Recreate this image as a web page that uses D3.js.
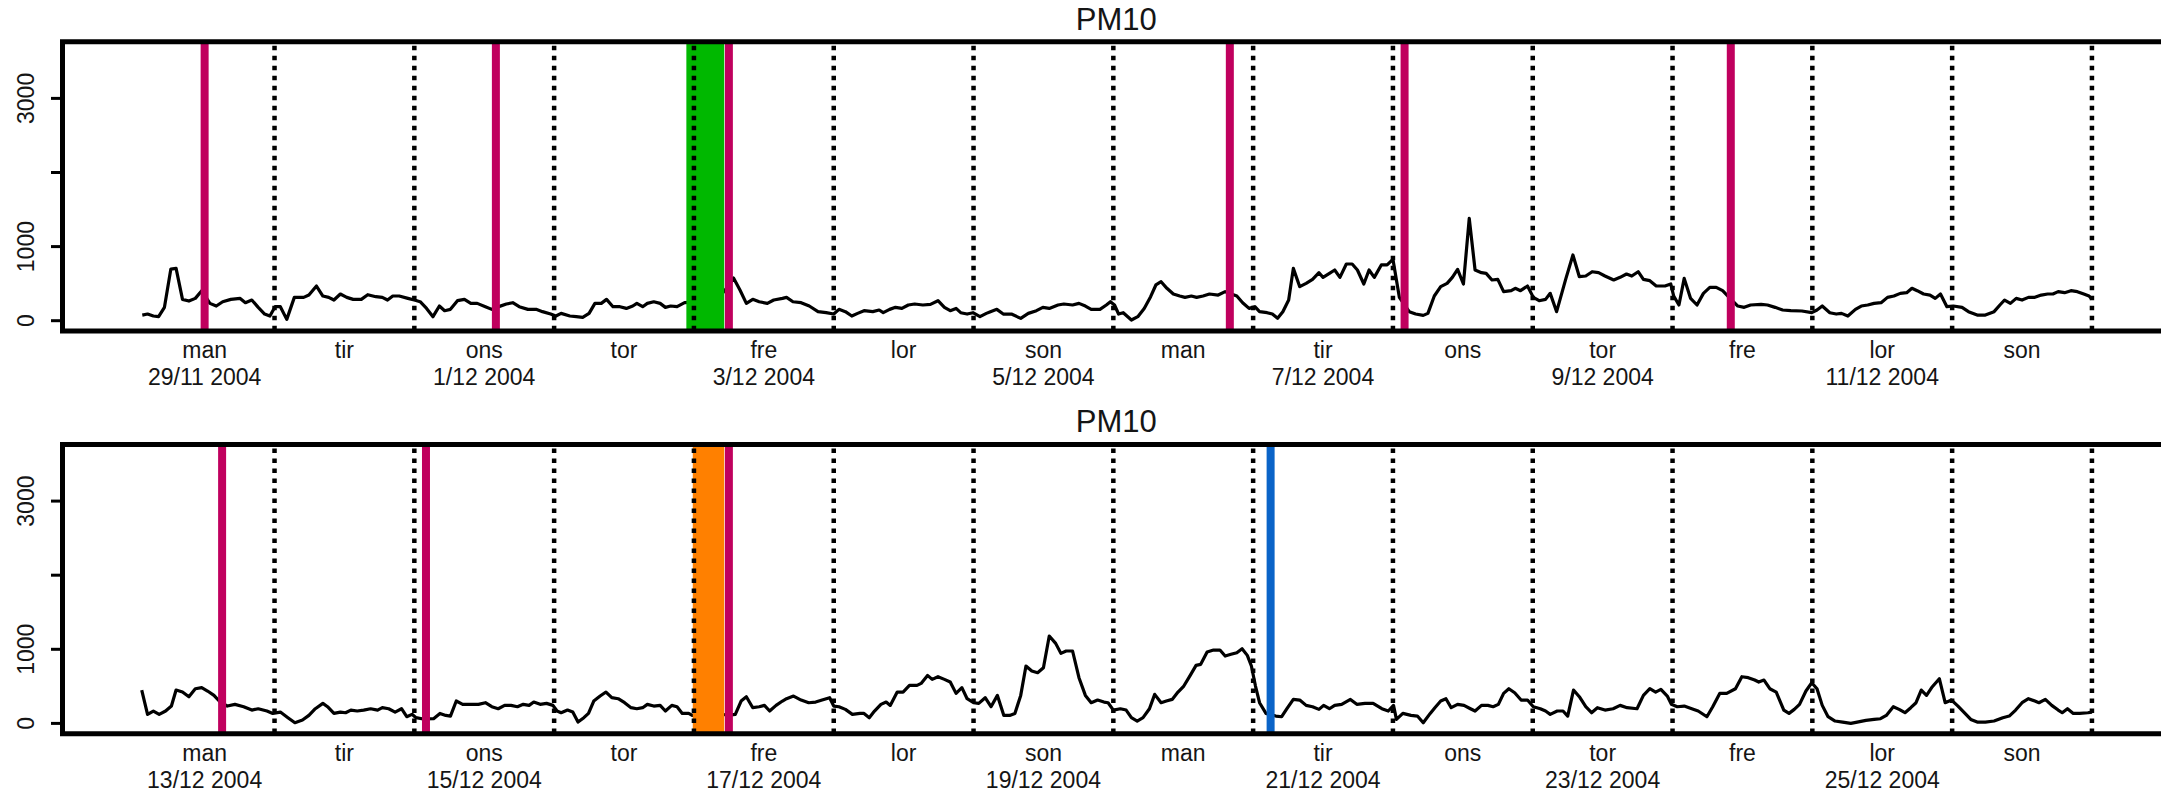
<!DOCTYPE html>
<html>
<head>
<meta charset="utf-8">
<script src="https://cdn.jsdelivr.net/npm/d3@7/dist/d3.min.js"></script>
<style>
  body { margin: 0; background: #fff; }
  svg { display: block; }
  text { font-family: "Liberation Sans", Arial, Helvetica, sans-serif; fill: #151515; }
</style>
</head>
<body>
<svg id="chart" width="2161" height="793"></svg>
<script>
// x axis: one label per day, dates only on every other day
var dayNames = ["man", "tir", "ons", "tor", "fre", "lor", "son", "man", "tir", "ons", "tor", "fre", "lor", "son"]
var datesTop = ["29/11 2004", "", "1/12 2004", "", "3/12 2004", "", "5/12 2004", "", "7/12 2004", "", "9/12 2004", "", "11/12 2004", ""]
var datesBottom = ["13/12 2004", "", "15/12 2004", "", "17/12 2004", "", "19/12 2004", "", "21/12 2004", "", "23/12 2004", "", "25/12 2004", ""]

// y axis
var yTicks = [0, 1000, 2000, 3000]
var yLabels = ["0", "1000", "", "3000"]

// PM10, [hours since first midnight, value]
var pm10Top = [
  [1.3, 76], [2.2, 90], [3.2, 63], [4.1, 54], [5.1, 180], [6.2, 697], [7.1, 706], [8.2, 288], [9.3, 265], [10.4, 301],
  [11.5, 405], [12.9, 234], [14, 198], [15.1, 256], [16.5, 288], [18.1, 301], [19, 243], [20.1, 279], [21.2, 180], [22.3, 90],
  [23.2, 63], [24.1, 189], [25, 189], [26.1, 18], [27.4, 315], [29, 315], [29.9, 346], [31.2, 468], [32.3, 333], [33.3, 315],
  [34.2, 279], [35.3, 360], [36.4, 315], [37.5, 288], [38.9, 288], [40, 351], [41.4, 324], [42.5, 315], [43.4, 279], [44.3, 333],
  [45.4, 333], [46.9, 301], [48, 279], [49, 256], [50.1, 166], [51.2, 54], [52.3, 198], [53.2, 135], [54.2, 153], [55.4, 270],
  [56.6, 288], [57.7, 234], [58.8, 234], [60.2, 189], [61.3, 153], [62.5, 190], [63.8, 225], [64.9, 243], [66, 189], [67.5, 153],
  [68.9, 153], [70, 122], [71.4, 90], [72.3, 63], [73.2, 99], [74.7, 63], [75.8, 54], [76.9, 45], [78, 99], [79, 234],
  [80.1, 234], [81, 288], [82.1, 189], [83.3, 189], [84.4, 166], [85.5, 198], [86.2, 234], [87.2, 189], [88, 234], [89.1, 256],
  [90.2, 234], [91.1, 180], [92, 198], [93.1, 189], [94.4, 243], [96, 250], [98, 260], [100, 280], [102, 480], [102.8, 576],
  [103.9, 414], [105, 234], [106.1, 288], [107.2, 256], [108.6, 234], [109.7, 279], [111.2, 301], [111.9, 315], [113, 256], [114.4, 243],
  [115.8, 198], [117.3, 122], [118.7, 108], [120, 90], [120.9, 153], [122, 122], [123.1, 63], [124.1, 99], [125.2, 135], [126.7, 122],
  [127.8, 144], [128.5, 108], [129.6, 153], [130.6, 180], [131.7, 166], [132.8, 212], [133.9, 225], [135.3, 212], [136.6, 221], [137.9, 270],
  [139, 180], [140, 135], [141, 166], [141.8, 108], [142.9, 90], [143.9, 108], [145.1, 54], [146.2, 99], [146.9, 122], [148, 153],
  [149.1, 90], [150.5, 90], [152.1, 32], [153.4, 99], [154.8, 135], [155.9, 180], [157, 166], [158.5, 212], [159.5, 225], [161, 212],
  [162.1, 234], [163.2, 198], [164.2, 153], [165.7, 153], [166.8, 212], [167.5, 256], [168.2, 212], [168.9, 90], [169.7, 108], [171.1, 9],
  [172.2, 54], [173.3, 166], [174.4, 324], [175.3, 482], [176.2, 526], [177.2, 437], [178.3, 360], [179.4, 333], [180.3, 315], [181.4, 333],
  [182.3, 315], [183.4, 333], [184.5, 360], [186, 346], [187.2, 392], [189.2, 333], [190.2, 243], [191.3, 166], [192.3, 189], [193.1, 122],
  [194.4, 108], [195.3, 90], [196.2, 32], [197.1, 122], [198.1, 279], [198.9, 706], [200, 459], [201.1, 504], [202.2, 558], [203.3, 648],
  [204, 585], [205.1, 639], [206, 684], [206.9, 585], [208, 765], [209, 765], [209.9, 684], [211, 495], [211.9, 684], [212.8, 585],
  [214, 752], [215, 752], [216, 828], [216.6, 549], [217.1, 315], [218.8, 122], [219.9, 90], [221.2, 72], [222, 99], [223.1, 333],
  [224.2, 459], [225.3, 504], [226.2, 585], [227.1, 693], [228.1, 495], [229.1, 1381], [230.1, 684], [231.2, 648], [232, 639], [233, 549],
  [234, 558], [235, 392], [236.3, 405], [237, 437], [237.9, 405], [239.1, 468], [240.1, 315], [241.1, 270], [242.2, 288], [243, 369],
  [244.1, 122], [245.7, 571], [246.9, 887], [248, 594], [249.1, 603], [250.2, 661], [251.3, 648], [252.4, 603], [253.9, 549], [255, 585],
  [256.1, 630], [257, 603], [258.1, 661], [259, 558], [260.1, 540], [261.2, 468], [262.7, 468], [263.7, 495], [264.2, 333], [265.1, 212],
  [266, 571], [267.1, 301], [268.2, 212], [269.3, 369], [270.4, 450], [271.5, 450], [272.6, 405], [273.5, 333], [275.2, 198], [276.3, 180],
  [277.4, 212], [279.2, 221], [280.3, 212], [281.6, 180], [282.9, 144], [284.3, 135], [286.2, 131], [287.9, 108], [288.8, 144], [289.7, 198],
  [291, 108], [292.1, 90], [293, 99], [294.1, 63], [295.4, 153], [296.4, 198], [297.5, 212], [298.6, 234], [299.8, 243], [300.9, 315],
  [302, 333], [303.1, 369], [304.2, 378], [305.1, 437], [306, 405], [307.1, 360], [308.2, 346], [309.1, 301], [310, 360], [311.1, 189],
  [312.2, 198], [313.7, 180], [314.8, 122], [316.3, 76], [317.7, 76], [319.2, 122], [320.2, 212], [321, 279], [322, 234], [323, 301],
  [324, 279], [325.1, 315], [326.2, 315], [327.3, 346], [328.4, 360], [329.3, 360], [330.2, 392], [331.3, 378], [332.4, 405], [333.5, 392],
  [334.6, 360], [335.5, 333], [336, 290]
]

var pm10Bottom = [
  [1.2, 450], [2.2, 122], [3.2, 167], [4.2, 122], [5.3, 167], [6.3, 234], [7.1, 450], [8.2, 423], [9.3, 360], [10.4, 468],
  [11.5, 482], [12.5, 437], [13.6, 378], [14.5, 302], [15.9, 234], [17.2, 257], [18.7, 225], [20.1, 180], [21.2, 198], [22.7, 167],
  [23.7, 135], [25, 153], [26.3, 77], [27.5, 9], [28.8, 45], [29.9, 108], [31, 198], [32.3, 270], [33.1, 225], [34.2, 135],
  [35.3, 153], [36.2, 144], [37.1, 180], [38.2, 167], [39.3, 180], [40.5, 198], [41.7, 180], [42.5, 212], [43.6, 198], [44.7, 153],
  [45.8, 198], [46.7, 90], [47.6, 122], [48.3, 77], [49.5, 60], [51.3, 63], [52.4, 135], [53.4, 108], [54.2, 99], [55.2, 302],
  [56.3, 257], [57.7, 257], [59, 257], [60.2, 279], [61.3, 225], [62.4, 198], [63.5, 243], [64.6, 243], [65.7, 225], [66.7, 257],
  [67.7, 243], [68.5, 288], [69.6, 257], [70.7, 270], [71.8, 243], [72.5, 167], [73.2, 144], [74.3, 180], [75.2, 153], [76.1, 18],
  [77.1, 77], [77.9, 135], [78.8, 302], [79.9, 369], [80.9, 423], [81.9, 347], [83, 333], [84.1, 279], [85.2, 212], [86.2, 198],
  [87.2, 212], [88, 257], [89.1, 234], [90.2, 243], [91.1, 167], [92.2, 243], [93.1, 225], [94, 135], [95.1, 135], [95.7, 108],
  [98, 150], [100, 130], [102, 110], [103.1, 122], [104.1, 302], [105, 360], [106.1, 212], [107.2, 225], [108.1, 243], [109, 167],
  [110.1, 243], [111.2, 302], [111.9, 333], [113.1, 369], [114.4, 315], [115.7, 279], [116.9, 288], [118, 315], [119.3, 347], [120, 234],
  [120.9, 225], [122, 189], [123.2, 122], [124.5, 135], [125.2, 135], [126.1, 77], [127, 167], [128.1, 257], [129, 288], [129.7, 243],
  [130.9, 423], [131.9, 423], [133, 513], [134.3, 513], [135, 540], [136.1, 648], [136.9, 594], [137.9, 630], [139, 594], [140, 558],
  [141, 405], [142, 482], [142.9, 333], [144, 279], [144.9, 270], [146, 347], [147, 225], [148.1, 378], [149.2, 108], [150.2, 108],
  [151.1, 135], [152.1, 378], [153, 774], [154, 707], [155, 684], [156, 752], [157, 1179], [158.1, 1080], [159, 945], [159.9, 977],
  [161, 977], [162.1, 617], [163.2, 378], [164.2, 279], [165.3, 315], [166.4, 288], [167.1, 279], [168, 180], [169.2, 198], [170.2, 180],
  [171.1, 77], [172.1, 32], [173.1, 77], [174.2, 198], [175.1, 392], [176.2, 279], [177.1, 302], [178.1, 324], [179.1, 423], [180.1, 504],
  [181.2, 648], [182.2, 783], [183, 797], [184.1, 963], [185.2, 990], [186.3, 990], [187.2, 909], [188.2, 932], [189.2, 954], [190.1, 1008],
  [191, 918], [191.7, 774], [192.4, 504], [193.1, 279], [194.2, 135], [195.9, 99], [196.9, 90], [197.8, 198], [198.9, 324], [200, 315],
  [201.1, 243], [202.2, 225], [203.3, 189], [204.1, 243], [205.1, 198], [206, 243], [207.2, 257], [208.7, 324], [209.8, 257], [211.2, 270],
  [212.6, 270], [214.1, 198], [215.2, 167], [216.1, 243], [216.6, 54], [217.7, 135], [219.1, 108], [220.2, 99], [221.2, 9], [222.4, 135],
  [223.2, 212], [224.2, 302], [225.1, 333], [226, 212], [227.1, 257], [228.2, 243], [229.3, 198], [230.1, 167], [231.2, 243], [232.3, 243],
  [233.2, 225], [234.1, 257], [235, 405], [235.9, 468], [236.9, 414], [238, 315], [239.1, 315], [240.1, 225], [241.3, 198], [242.2, 167],
  [243, 122], [244.2, 167], [245.2, 167], [246, 99], [247, 450], [248, 360], [249.1, 225], [250.1, 144], [251.1, 212], [252.4, 180],
  [253.8, 198], [255, 243], [256.2, 212], [257.9, 198], [259, 378], [260.1, 468], [261.1, 423], [262, 459], [263.1, 369], [263.8, 257],
  [264.8, 225], [266, 234], [267.3, 198], [268.4, 167], [269.9, 90], [270.9, 225], [272.1, 405], [273.3, 405], [274.8, 468], [275.9, 630],
  [277, 617], [278.1, 585], [278.8, 558], [279.7, 585], [280.7, 468], [281.8, 423], [283.1, 180], [284, 135], [284.9, 189], [285.8, 257],
  [286.9, 437], [287.9, 549], [288.8, 468], [289.7, 243], [290.7, 90], [291.9, 32], [293.2, 18], [294.6, 0], [295.7, 18], [297.2, 41],
  [298.6, 54], [299.7, 63], [300.7, 108], [301.9, 225], [302.9, 189], [303.9, 144], [304.9, 212], [305.8, 279], [306.7, 450], [307.6, 378],
  [308.6, 495], [309.8, 603], [310.8, 279], [311.9, 315], [313, 234], [314, 153], [315.2, 54], [316.3, 18], [317.7, 18], [319.2, 32],
  [320.7, 77], [321.8, 99], [322.9, 180], [324, 279], [325.1, 333], [326.2, 302], [326.9, 279], [328, 324], [329.1, 243], [330.2, 180],
  [330.9, 144], [331.8, 198], [332.8, 135], [333.9, 135], [335.3, 144], [336, 153]
]

// events (hours): thick vertical markers and shaded periods
var markersTop = [12, 62, 102, 188, 218, 274]
var markersBottom = [15, 50, 102]
var blueBottom = [195]
var bandTop = [94.7, 101.2]
var bandBottom = [95.8, 101.2]

var svg = d3.select("#chart")

var boxLeft = 62.5, boxRight = 2170
var x = d3.scaleLinear().domain([-12.4, 349.4]).range([boxLeft, boxRight])

var panels = [
  { top: 41.7, data: pm10Top, dates: datesTop, markers: markersTop, blue: [], band: bandTop, bandColor: "#00b800" },
  { top: 444.4, data: pm10Bottom, dates: datesBottom, markers: markersBottom, blue: blueBottom, band: bandBottom, bandColor: "#ff8000" }
]

panels.forEach(function (p) {
  var bottom = p.top + 289.3
  var y = d3.scaleLinear().domain([-139, 3765]).range([bottom, p.top])
  var g = svg.append("g")

  // the series
  var line = d3.line()
    .x(function (d) { return x(d[0]) })
    .y(function (d) { return y(d[1]) })

  g.append("path")
    .datum(p.data)
    .attr("d", line)
    .attr("fill", "none")
    .attr("stroke", "#000")
    .attr("stroke-width", 3.2)
    .attr("stroke-linejoin", "round")

  // shaded period
  g.append("rect")
    .attr("x", x(p.band[0]))
    .attr("width", x(p.band[1]) - x(p.band[0]))
    .attr("y", p.top)
    .attr("height", bottom - p.top)
    .attr("fill", p.bandColor)

  // event markers
  g.selectAll(".mk")
    .data(p.markers)
    .enter().append("line")
    .attr("x1", function (d) { return x(d) })
    .attr("x2", function (d) { return x(d) })
    .attr("y1", p.top)
    .attr("y2", bottom)
    .attr("stroke", "#c0005e")
    .attr("stroke-width", 8)

  g.selectAll(".bl")
    .data(p.blue)
    .enter().append("line")
    .attr("x1", function (d) { return x(d) })
    .attr("x2", function (d) { return x(d) })
    .attr("y1", p.top)
    .attr("y2", bottom)
    .attr("stroke", "#0a64c8")
    .attr("stroke-width", 8)

  // midnight lines
  g.selectAll(".mid")
    .data(d3.range(1, 15).map(function (d) { return d * 24 }))
    .enter().append("line")
    .attr("x1", function (d) { return x(d) })
    .attr("x2", function (d) { return x(d) })
    .attr("y1", p.top + 4)
    .attr("y2", bottom)
    .attr("stroke", "#000")
    .attr("stroke-width", 4.5)
    .attr("stroke-dasharray", "4.5,5.5")

  // box (right edge falls outside the picture)
  g.append("path")
    .attr("d", "M" + boxRight + "," + p.top + "H" + boxLeft + "V" + bottom + "H" + boxRight)
    .attr("fill", "none")
    .attr("stroke", "#000")
    .attr("stroke-width", 5)

  // y axis
  g.selectAll(".yt")
    .data(yTicks)
    .enter().append("line")
    .attr("x1", 51)
    .attr("x2", boxLeft)
    .attr("y1", function (d) { return y(d) })
    .attr("y2", function (d) { return y(d) })
    .attr("stroke", "#000")
    .attr("stroke-width", 3)

  g.selectAll(".yl")
    .data(yTicks)
    .enter().append("text")
    .attr("transform", function (d) { return "translate(33.5," + y(d) + ") rotate(-90)" })
    .attr("text-anchor", "middle")
    .style("font-size", "23px")
    .text(function (d, i) { return yLabels[i] })

  // x labels
  g.selectAll(".day")
    .data(dayNames)
    .enter().append("text")
    .attr("x", function (d, i) { return x(i * 24 + 12) })
    .attr("y", bottom + 27)
    .attr("text-anchor", "middle")
    .style("font-size", "23px")
    .text(function (d) { return d })

  g.selectAll(".date")
    .data(p.dates)
    .enter().append("text")
    .attr("x", function (d, i) { return x(i * 24 + 12) })
    .attr("y", bottom + 54)
    .attr("text-anchor", "middle")
    .style("font-size", "23px")
    .text(function (d) { return d })

  // title
  g.append("text")
    .attr("x", (boxLeft + boxRight) / 2)
    .attr("y", p.top - 12)
    .attr("text-anchor", "middle")
    .style("font-size", "31px")
    .text("PM10")
})
</script>
</body>
</html>
